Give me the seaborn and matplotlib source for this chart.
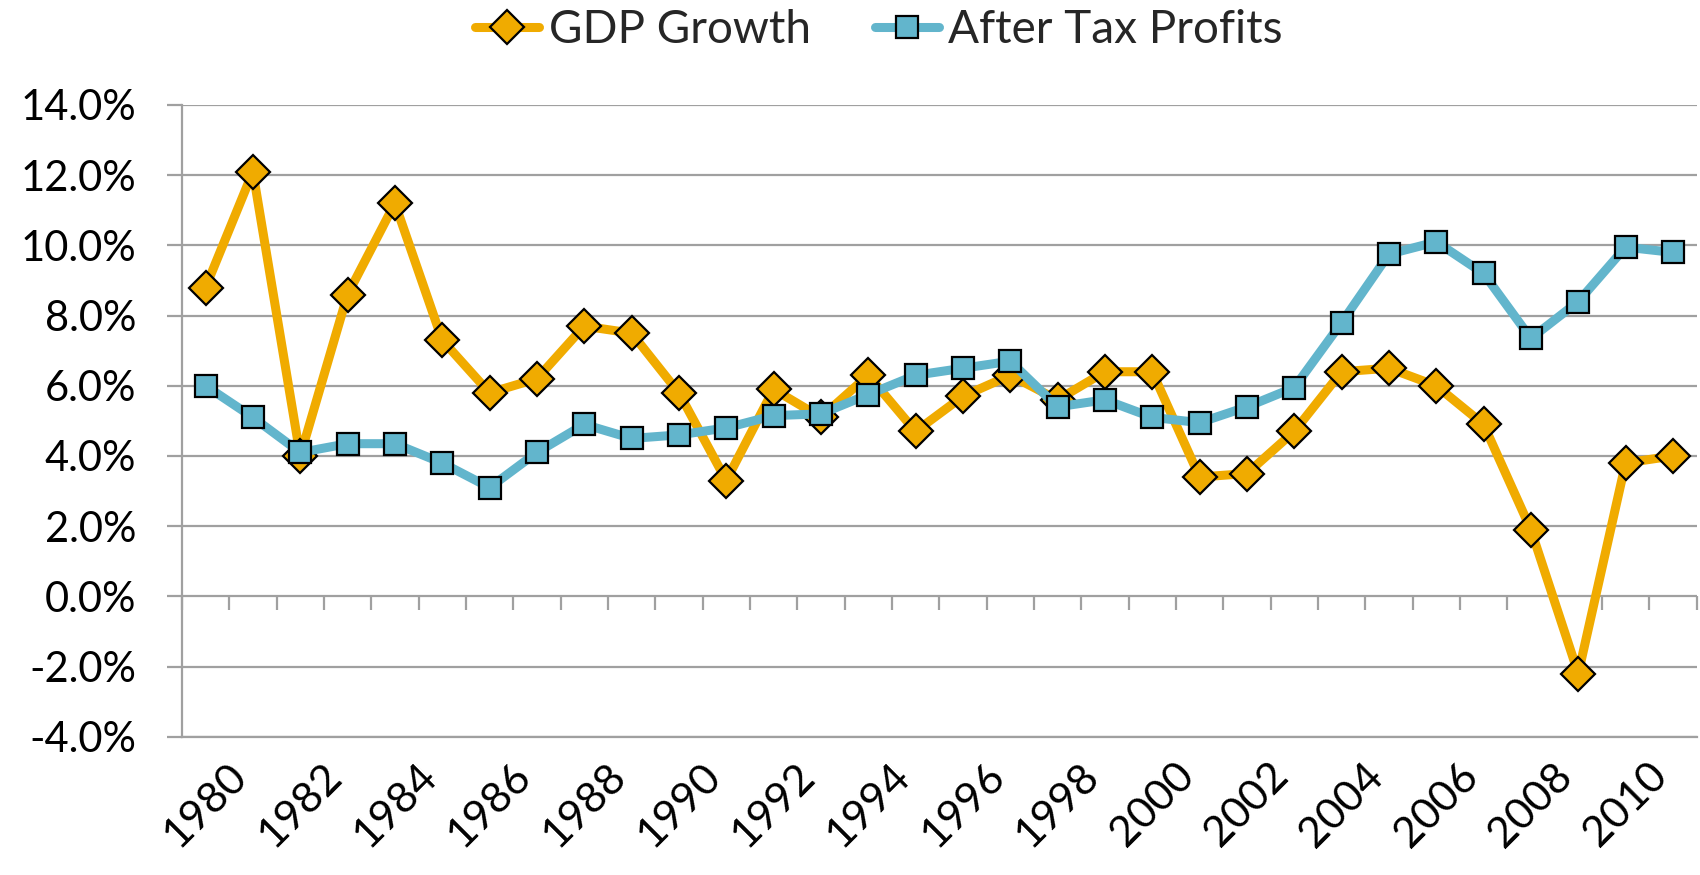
"""GDP growth vs after tax profits, 1980-2011."""

import matplotlib
matplotlib.use("Agg")
import matplotlib.pyplot as plt
import numpy as np
import pandas as pd
import seaborn as sns
from matplotlib.lines import Line2D
from matplotlib.ticker import FuncFormatter, MultipleLocator

years = list(range(1980, 2012))
gdp_growth = [8.8, 12.1, 4.0, 8.6, 11.2, 7.3, 5.8, 6.2, 7.7, 7.5,
              5.8, 3.3, 5.9, 5.1, 6.3, 4.7, 5.7, 6.3, 5.6, 6.4,
              6.4, 3.4, 3.5, 4.7, 6.4, 6.5, 6.0, 4.9, 1.9, -2.2,
              3.8, 4.0]
after_tax_profits = [6.0, 5.1, 4.1, 4.35, 4.35, 3.8, 3.1, 4.1, 4.9, 4.5,
                     4.6, 4.8, 5.15, 5.2, 5.75, 6.3, 6.5, 6.7, 5.4, 5.6,
                     5.1, 4.95, 5.4, 5.95, 7.8, 9.75, 10.1, 9.2, 7.35, 8.4,
                     9.95, 9.8]

df = pd.DataFrame({"year": years, "GDP Growth": gdp_growth,
                   "After Tax Profits": after_tax_profits})

ORANGE = "#F0AB00"
BLUE = "#62B5CC"
GRID = "#A0A0A0"
LW = 6.5

sns.set_theme(style="white")
plt.rcParams["font.family"] = ["Lato", "DejaVu Sans"]

fig = plt.figure(figsize=(17, 8.75), dpi=100)
ax = fig.add_axes([0.107, 0.158, 0.891, 0.722])

sns.lineplot(data=df, x="year", y="GDP Growth", ax=ax, color=ORANGE,
             linewidth=LW, marker="D", markersize=17, markerfacecolor=ORANGE,
             markeredgecolor="black", markeredgewidth=1.6, zorder=3)
sns.lineplot(data=df, x="year", y="After Tax Profits", ax=ax, color=BLUE,
             linewidth=LW, marker="s", markersize=16, markerfacecolor=BLUE,
             markeredgecolor="black", markeredgewidth=1.6, zorder=4)

ax.set_xlim(years[0] - 0.5, years[-1] + 0.5)
ax.set_ylim(-4, 14)
ax.yaxis.set_major_locator(MultipleLocator(2))
ax.yaxis.set_major_formatter(FuncFormatter(lambda v, _: f"{v:.1f}%"))
ax.grid(axis="y", color=GRID, linewidth=1.6)
ax.set_axisbelow(True)
ax.set_xlabel("")
ax.set_ylabel("")

ax.set_xticks(years[::2])
ax.set_xticklabels([str(y) for y in years[::2]], rotation=45,
                   ha="center", va="top")
ax.tick_params(axis="x", length=0, pad=14, labelsize=31, colors="black")
ax.tick_params(axis="y", length=11, width=1.6, color=GRID, pad=22,
               labelsize=30, labelcolor="black", left=True)

for side in ["top", "right"]:
    ax.spines[side].set_visible(False)
ax.spines["left"].set_color(GRID)
ax.spines["left"].set_linewidth(1.6)
ax.spines["bottom"].set_color(GRID)
ax.spines["bottom"].set_linewidth(1.6)

# category boundary ticks on the zero line
zero_pos = (0 - (-4)) / (14 - (-4))
sec = ax.secondary_xaxis(zero_pos)
sec.set_xticks(np.arange(years[0] - 0.5, years[-1] + 1.0, 1.0))
sec.tick_params(direction="out", length=10, width=1.6, color=GRID,
                labelbottom=False, labeltop=False)
for s in sec.spines.values():
    s.set_visible(False)

handles = [
    Line2D([], [], color=ORANGE, linewidth=LW, marker="D", markersize=17,
           markerfacecolor=ORANGE, markeredgecolor="black",
           markeredgewidth=1.6),
    Line2D([], [], color=BLUE, linewidth=LW, marker="s", markersize=16,
           markerfacecolor=BLUE, markeredgecolor="black",
           markeredgewidth=1.6),
]
fig.legend(handles, ["GDP Growth", "After Tax Profits"], loc="center",
           bbox_to_anchor=(0.517, 0.966), ncol=2, frameon=False,
           fontsize=33, handlelength=1.4, handletextpad=0.2,
           columnspacing=1.4)

plt.savefig("out.png", dpi=100)
plt.close()
